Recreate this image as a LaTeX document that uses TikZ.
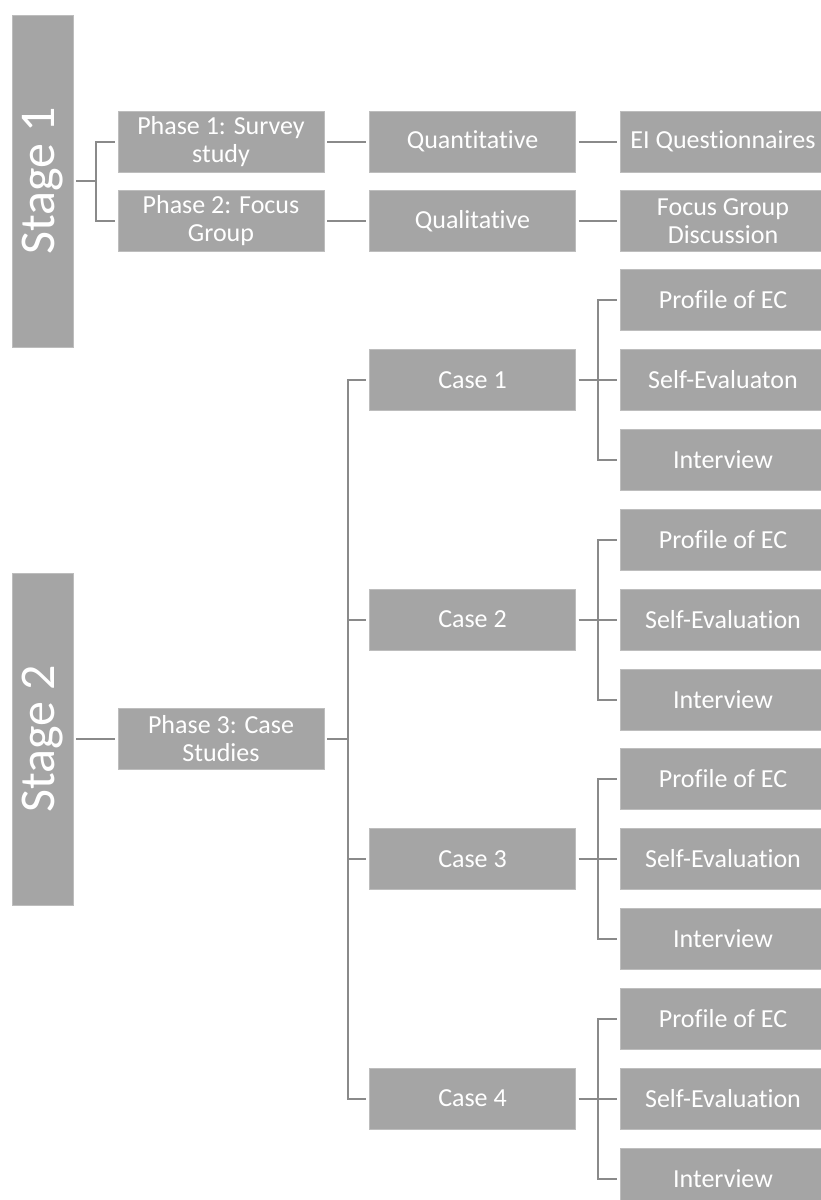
\documentclass[tikz,border=0pt]{standalone}
\usepackage{fontspec}
\usepackage{graphicx}
\setmainfont{Carlito}[RawFeature={-liga;-clig;-calt;-dlig}]
\definecolor{boxgray}{HTML}{A5A5A5}
\definecolor{edgegray}{HTML}{BDBDBD}
\definecolor{linegray}{HTML}{8A8A8A}
\begin{document}
\begin{tikzpicture}[x=1pt,y=-1pt,
  box/.style={fill=boxgray, draw=edgegray, line width=0.8pt, text=white,
    align=center, minimum width=206pt, minimum height=61pt, inner sep=0pt,
    font=\fontsize{26}{28}\selectfont},
  stagebox/.style={box, minimum width=61pt, minimum height=332pt,
    font=\fontsize{50}{56}\selectfont},
  conn/.style={draw=linegray, line width=2pt, shorten <=3pt, shorten >=3pt}]
  \useasboundingbox (0,0) rectangle (821,1200);
  \clip (0,0) rectangle (821,1200);

  % bus lines
  \coordinate (b1) at (96,0);
  \coordinate (t) at (348,0);
  \coordinate (cb) at (598,0);

  % stages
  \node[stagebox] (s1) at (42.5,181) {\rotatebox{90}{Stage 1}};
  \node[stagebox] (s2) at (42.5,739) {\rotatebox{90}{Stage 2}};

  % phases
  \node[box] (p1) at (221,141.5) {Phase 1: Survey\\study};
  \node[box] (p2) at (221,221) {Phase 2: Focus\\Group};
  \node[box] (p3) at (221,739) {Phase 3: Case\\Studies};

  % methods and instruments
  \node[box] (qn) at (472.5,141.5) {Quantitative};
  \node[box] (ql) at (472.5,221) {Qualitative};
  \node[box] (ei) at (723,141.5) {EI Questionnaires};
  \node[box] (fg) at (723,221) {Focus Group\\Discussion};

  \draw[conn] (s1.east) -- (s1.east -| b1) |- (p1.west);
  \draw[conn] (s1.east) -- (s1.east -| b1) |- (p2.west);
  \draw[conn] (s2.east) -- (p3.west);
  \draw[conn] (p1.east) -- (qn.west);
  \draw[conn] (p2.east) -- (ql.west);
  \draw[conn] (qn.east) -- (ei.west);
  \draw[conn] (ql.east) -- (fg.west);

  % case studies
  \foreach \k/\y/\se in {1/380/Self-Evaluaton, 2/619.5/Self-Evaluation,
                         3/859/Self-Evaluation, 4/1098.5/Self-Evaluation}{
    \node[box] (c\k) at (472.5,\y) {Case \k};
    \node[box] (pr\k) at (723,\y-80) {Profile of EC};
    \node[box] (se\k) at (723,\y) {\se};
    \node[box] (iv\k) at (723,\y+80) {Interview};
    \draw[conn] (p3.east) -- (p3.east -| t) |- (c\k.west);
    \draw[conn] (c\k.east) -- (c\k.east -| cb) |- (pr\k.west);
    \draw[conn] (c\k.east) -- (se\k.west);
    \draw[conn] (c\k.east) -- (c\k.east -| cb) |- (iv\k.west);
  }
\end{tikzpicture}
\end{document}
